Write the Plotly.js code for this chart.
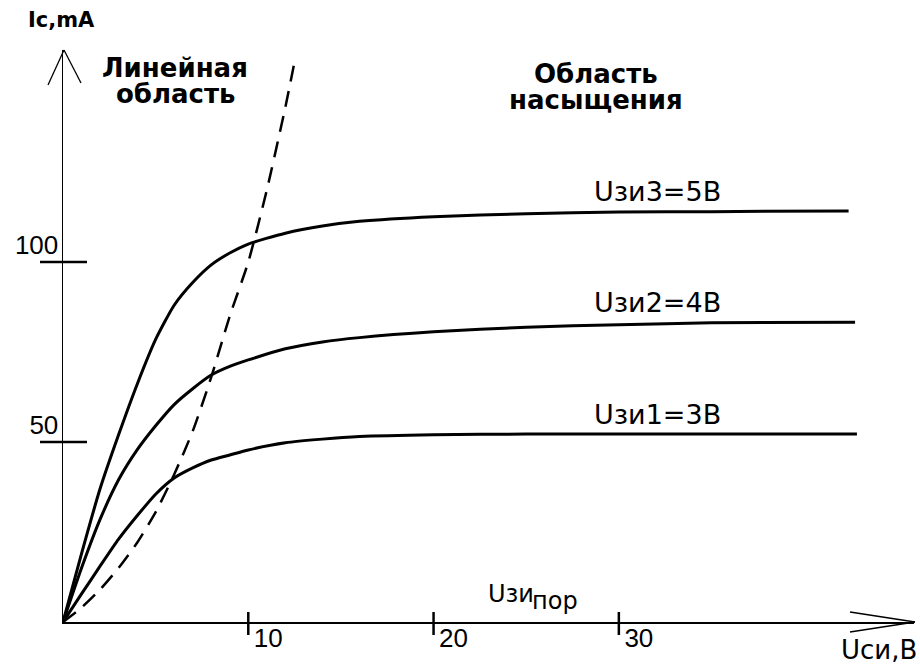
<!DOCTYPE html>
<html><head><meta charset="utf-8">
<script src="https://cdn.plot.ly/plotly-3.0.1.min.js"></script>
<style>html,body{margin:0;padding:0;background:#fff;}</style>
</head><body><div id="chart" style="width:920px;height:665px;"></div>
<script>
// ---- data ----
const udsU3 = [0,1,2,3,4,5,6,7,8,9,10,12,14,16,20,25,30,35,42.4];
const icU3  = [0,19,37,52,66,78.5,88,94.3,99.2,102.5,105,108,110,111.3,112.6,113.4,113.9,114.0,114.2];
const udsU2 = [0,1,2,3,4,5,6,7,8,9,10,12,14,16,20,25,30,35,42.75];
const icU2  = [0,15,28.5,39.5,47.8,54.5,60.4,64.8,68.6,71.0,72.8,75.9,77.8,79.0,80.6,81.9,82.6,83.1,83.3];
const udsU1 = [0,1,2,3,4,5,6,7,8,9,10,12,14,16,20,25,30,35,42.85];
const icU1  = [0,7.8,15.5,23,29.5,35.5,40,42.8,45,46.4,47.8,49.8,50.8,51.5,52.0,52.2,52.2,52.2,52.2];
const udsBoundary = [0,1,2,3,4,5,6,7,8,9,10,11,12,12.55];
const icBoundary  = [0,4,9,15,22,30.5,41,53,68,85,100,120,143,157];
const xTickVals = [10,20,30];
const xTickText = ['10','20','30'];
const yTickVals = [50,100];
const yTickText = ['50','100'];
const curveLabels = ['Uзи3=5В','Uзи2=4В','Uзи1=3В'];

// ---- layout constants ----
const X_MAX = 45.93, Y_MAX = 158.9;
const LBL = 'DejaVu Sans, Verdana, sans-serif';
const NUM = 'Liberation Sans, Arial, sans-serif';

const solid = {color:'#000', width:3, shape:'spline', smoothing:0.6};
const traces = [
  {x:udsU3, y:icU3, mode:'lines', line:solid, hoverinfo:'skip'},
  {x:udsU2, y:icU2, mode:'lines', line:solid, hoverinfo:'skip'},
  {x:udsU1, y:icU1, mode:'lines', line:solid, hoverinfo:'skip'},
  {x:udsBoundary, y:icBoundary, mode:'lines', hoverinfo:'skip',
   line:{color:'#000', width:2.5, dash:'16px,10px', shape:'spline', smoothing:0.6}}
];

const shapes = [];
// crossing tick marks
xTickVals.forEach(v => shapes.push({type:'line', xref:'x', x0:v, x1:v,
  yref:'paper', ysizemode:'pixel', yanchor:0, y0:-13, y1:10, line:{color:'#000', width:2.5}}));
yTickVals.forEach(v => shapes.push({type:'line', yref:'y', y0:v, y1:v,
  xref:'paper', xsizemode:'pixel', xanchor:0, x0:-23, x1:24, line:{color:'#000', width:2.5}}));
// arrow heads of the axes (open V)
const wing = {color:'#000', width:1.3};
shapes.push({type:'line', xref:'paper', xsizemode:'pixel', xanchor:0, x0:1, x1:-15,
  yref:'paper', ysizemode:'pixel', yanchor:1, y0:0, y1:-35, line:wing});
shapes.push({type:'line', xref:'paper', xsizemode:'pixel', xanchor:0, x0:1, x1:18,
  yref:'paper', ysizemode:'pixel', yanchor:1, y0:0, y1:-33, line:wing});
shapes.push({type:'line', xref:'paper', xsizemode:'pixel', xanchor:1, x0:1, x1:-64,
  yref:'paper', ysizemode:'pixel', yanchor:0, y0:0, y1:10, line:wing});
shapes.push({type:'line', xref:'paper', xsizemode:'pixel', xanchor:1, x0:1, x1:-64,
  yref:'paper', ysizemode:'pixel', yanchor:0, y0:0, y1:-10, line:wing});

function ann(text, x, y, opts) {
  return Object.assign({text:text, x:x, y:y, xref:'x', yref:'y', showarrow:false,
    font:{family:LBL, size:27, color:'#000'}}, opts||{});
}
const bold = s => ({family:LBL, size:s, color:'#000', weight:'bold'});
const annotations = [
  ann('Ic,mA', 0, 1, {yref:'paper', yanchor:'bottom', yshift:16, xshift:-2, font:bold(21)}),
  ann('Линейная', 6.05, 154.0, {font:bold(26), borderpad:0}),
  ann('область', 6.1, 146.6, {font:bold(26), borderpad:0}),
  ann('Область', 28.75, 152.3, {font:bold(26), borderpad:0}),
  ann('насыщения', 28.75, 145.0, {font:bold(26), borderpad:0}),
  ann(curveLabels[0], 28.55, icU3[icU3.length-1], {xanchor:'left', yanchor:'bottom', yshift:2}),
  ann(curveLabels[1], 28.55, icU2[icU2.length-1], {xanchor:'left', yanchor:'bottom', yshift:2}),
  ann(curveLabels[2], 28.55, icU1[icU1.length-1], {xanchor:'left', yanchor:'bottom', yshift:2}),
  ann('Uзи', 25.36, 0, {xanchor:'right', yanchor:'bottom', yshift:12, xshift:3, font:{family:LBL, size:24, color:'#000'}}),
  ann('пор', 25.36, 0, {xanchor:'left', yanchor:'bottom', yshift:5, xshift:-3, font:{family:LBL, size:24, color:'#000'}}),
  ann('Uси,В', 1, 0, {xref:'paper', yref:'paper', xanchor:'right', yanchor:'top', xshift:4, yshift:-12,
      borderpad:0, font:{family:LBL, size:26, color:'#000'}})
];

const layout = {
  width:920, height:665,
  margin:{l:63, r:6, t:50, b:43, pad:0},
  paper_bgcolor:'#fff', plot_bgcolor:'#fff',
  showlegend:false,
  xaxis:{range:[0, X_MAX], showline:true, linecolor:'#000', linewidth:2, showgrid:false, zeroline:false,
    tickmode:'array', tickvals:xTickVals, ticktext:xTickText, ticks:'', ticklabelshift:20, ticklabelstandoff:-8,
    tickfont:{family:NUM, size:26, color:'#000'}, fixedrange:true},
  yaxis:{range:[0, Y_MAX], showline:true, linecolor:'#000', linewidth:1.5, showgrid:false, zeroline:false,
    tickmode:'array', tickvals:yTickVals, ticktext:yTickText, ticks:'', ticklabelshift:-17, ticklabelstandoff:-2,
    tickfont:{family:NUM, size:26, color:'#000'}, fixedrange:true},
  shapes:shapes,
  annotations:annotations
};
Plotly.newPlot('chart', traces, layout, {staticPlot:true, displayModeBar:false});
</script></body></html>
